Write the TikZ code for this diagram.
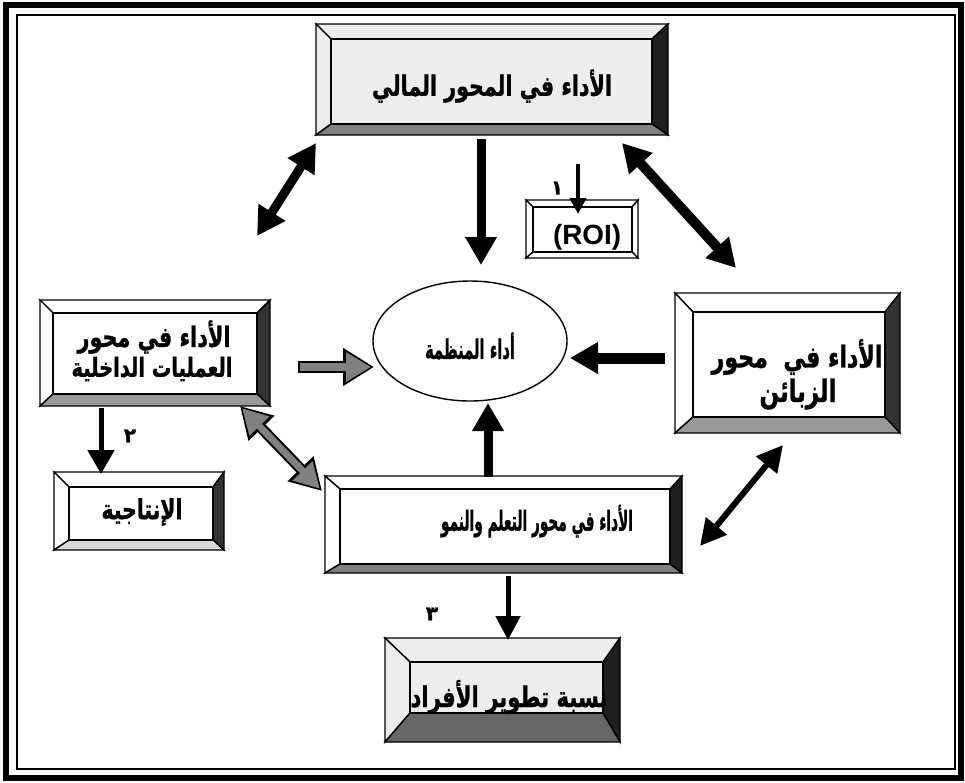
\documentclass[tikz,border=0pt]{standalone}
\usepackage{fontspec}
\usepackage{graphicx}
\newfontfamily\ar[Script=Arabic,BoldFeatures={FakeBold=1.3}]{DejaVu Sans}
\newfontfamily\lat{Liberation Sans}
\TeXXeTstate=1
\usetikzlibrary{arrows.meta,fit,shapes.geometric}
\tikzset{
  bev/.style={draw=black, line width=1.4pt, line join=miter},
  lbl/.style={inner sep=0pt, text=black},
  blk/.style={line width=9pt, draw=black, -{Triangle[width=30pt,length=28pt]}},
  blkdbl/.style={line width=9pt, draw=black, {Triangle[width=30pt,length=28pt]}-{Triangle[width=30pt,length=28pt]}},
  gryout/.style={line width=12pt, draw=black, -{Triangle[width=36pt,length=31pt]}},
  gryin/.style={line width=8pt, draw=black!50, shorten >=3pt, -{Triangle[width=28pt,length=25pt]}},
  grydblout/.style={line width=11pt, draw=black, {Triangle[width=34pt,length=31pt]}-{Triangle[width=34pt,length=31pt]}},
  grydblin/.style={line width=7pt, draw=black!50, shorten >=3pt, shorten <=3pt, {Triangle[width=26pt,length=25pt]}-{Triangle[width=26pt,length=25pt]}},
  thin/.style={line width=4pt, draw=black, -{Triangle[width=16pt,length=16pt]}},
  num/.style={inner sep=0pt, font=\ar\bfseries\fontsize{20pt}{20pt}\selectfont}
}
\newcommand\art[3][1.35]{\resizebox{#2}{!}{\scalebox{1}[#1]{\ar\bfseries\fontsize{20pt}{24pt}\selectfont #3}}}
\def\bfill{white}
\def\rfill{black!88}
\def\bbfill{black!50}
\newcommand\bevbox[9]{%
  \coordinate (#1-nw) at (#2,#3);
  \coordinate (#1-se) at (#4,#5);
  \node[fit=(#1-nw)(#1-se), inner sep=0pt] (#1) {};
  \filldraw[bev, fill=\bfill] (#2,#3) -- (#4,#3) -- ({#4-#8},{#3+#7}) -- ({#2+#6},{#3+#7}) -- cycle;
  \filldraw[bev, fill=\bfill] (#2,#3) -- ({#2+#6},{#3+#7}) -- ({#2+#6},{#5-#9}) -- (#2,#5) -- cycle;
  \filldraw[bev, fill=\rfill] (#4,#3) -- (#4,#5) -- ({#4-#8},{#5-#9}) -- ({#4-#8},{#3+#7}) -- cycle;
  \filldraw[bev, fill=\bbfill] (#2,#5) -- (#4,#5) -- ({#4-#8},{#5-#9}) -- ({#2+#6},{#5-#9}) -- cycle;
  \filldraw[bev, fill=\bfill] ({#2+#6},{#3+#7}) rectangle ({#4-#8},{#5-#9});
}
\begin{document}
\begin{tikzpicture}[x=1pt,y=-1pt]
\useasboundingbox (0,0) rectangle (965,782);
\fill[white] (0,0) rectangle (965,782);
% frame
\draw[line width=6pt] (6,5) rectangle (961,778);
\draw[line width=1.3pt] (17,15) rectangle (955,769);

% boxes
\def\bfill{black!7}
\bevbox{fin}{316}{24}{668}{135}{15}{15}{16}{11}
\def\bfill{white}\def\rfill{white}\def\bbfill{white}
\bevbox{roi}{526}{200}{638}{258}{7}{7}{6}{6}
\def\rfill{black!80}\def\bbfill{black!40}
\bevbox{ops}{40}{300}{270}{406}{13}{13}{13}{12}
\bevbox{cus}{675}{293}{900}{433}{18}{19}{15}{16}
\def\bbfill{black!15}
\bevbox{prod}{54}{472}{224}{550}{15}{15}{11}{10}
\def\rfill{black!88}\def\bbfill{black!50}
\bevbox{lrn}{325}{476}{682}{573}{15}{13}{12}{9}
\def\bfill{black!7}\def\bbfill{black!60}
\bevbox{dev}{385}{638}{620}{742}{25}{24}{17}{29}
\def\bfill{white}

\node[draw=black, line width=1.4pt, ellipse, minimum width=194pt, minimum height=120pt, inner sep=0pt] (org) at (470,341) {};

% texts
\node[lbl] (fin-t) at (492,86) {\art{240pt}{\beginR الأداء في المحور المالي\endR}};
\node[lbl, font=\lat\bfseries\fontsize{24pt}{26pt}\selectfont] (roi-t) at (587,237) {\resizebox{68pt}{!}{(ROI)}};
\node[lbl] (ops-t1) at (154,337) {\art{153pt}{\beginR الأداء في محور\endR}};
\node[lbl] (ops-t2) at (152,369) {\art{161pt}{\beginR العمليات الداخلية\endR}};
\node[lbl] (cus-t1) at (797,357) {\art{171pt}{\beginR الأداء في \ محور\endR}};
\node[lbl] (cus-t2) at (798,394) {\art{77pt}{\beginR الزبائن\endR}};
\node[lbl] (org-t) at (470,346) {\art[1.8]{90pt}{\beginR أداء المنظمة\endR}};
\node[lbl] (prod-t) at (142,512) {\art{81pt}{\beginR الإنتاجية\endR}};
\node[lbl] (lrn-t) at (537,521) {\art[2.0]{192pt}{\beginR الأداء في محور التعلم والنمو\endR}};
\node[lbl] (dev-t) at (509,697) {\art{197pt}{\beginR نسبة تطوير الأفراد\endR}};

% numbers
\node[num] (n1) at (557,188) {١};
\node[num] (n2) at (130,436) {٢};
\node[num] (n3) at (432,614) {٣};

% arrow end coordinates
\coordinate (a1a) at (316,143);
\coordinate (a1b) at (257,236);
\coordinate (a2a) at (481,139);
\coordinate (a2b) at (481,265);
\coordinate (a3a) at (578,164);
\coordinate (a3b) at (578,214);
\coordinate (a4a) at (622,143);
\coordinate (a4b) at (736,268);
\coordinate (a5a) at (665,358);
\coordinate (a5b) at (570,358);
\coordinate (a6a) at (298,367);
\coordinate (a6b) at (374,367);
\coordinate (a7a) at (101,408);
\coordinate (a7b) at (101,474);
\coordinate (a8a) at (240,406);
\coordinate (a8b) at (322,491);
\coordinate (a9a) at (488,477);
\coordinate (a9b) at (488,403);
\coordinate (a10a) at (700,546);
\coordinate (a10b) at (783,445);
\coordinate (a11a) at (508,576);
\coordinate (a11b) at (508,640);

% arrows
\draw[blkdbl] (a1a) -- (a1b);
\draw[blk] (a2a) -- (a2b);
\draw[thin] (a3a) -- (a3b);
\draw[blkdbl, line width=10pt] (a4a) -- (a4b);
\draw[blk, line width=11pt] (a5a) -- (a5b);
\draw[gryout] (a6a) -- (a6b);
\draw[gryin] ([xshift=2pt]a6a) -- (a6b);
\draw[line width=5pt, draw=black, -{Triangle[width=26pt,length=24pt]}] (a7a) -- (a7b);
\draw[grydblout] (a8a) -- (a8b);
\draw[grydblin] (a8a) -- (a8b);
\draw[blk] (a9a) -- (a9b);
\draw[line width=6pt, draw=black, {Triangle[width=26pt,length=26pt]}-{Triangle[width=26pt,length=26pt]}] (a10a) -- (a10b);
\draw[line width=5pt, draw=black, -{Triangle[width=24pt,length=24pt]}] (a11a) -- (a11b);
\end{tikzpicture}
\end{document}
